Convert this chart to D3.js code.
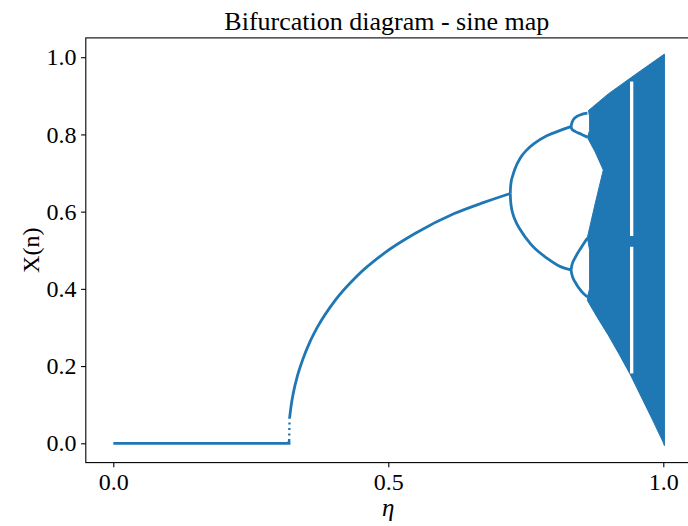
<!DOCTYPE html>
<html>
<head>
<meta charset="utf-8">
<script src="https://cdn.jsdelivr.net/npm/d3@7"></script>
<style>
  body { margin: 0; background: #fff; }
  svg { display: block; }
  .axis text { font-family: "Liberation Serif", "DejaVu Serif", serif; font-size: 24px; fill: #000; }
  .axis line { stroke: #000; stroke-width: 1.1; }
</style>
</head>
<body>
<div id="chart"></div>
<script>
// ticks
const etaTicks = [0, 0.5, 1.0];
const xTicks = [0, 0.2, 0.4, 0.6, 0.8, 1.0];

// branches, [eta, x]
const zeroBranch = [[0, 0], [0.3195, 0], [0.3195, 0.006]];
const onsetDots = [[0.3197, 0.006], [0.3205, 0.065]];
const fixedBranch = [[0.3205, 0.065], [0.3231, 0.095], [0.3270, 0.128], [0.3349, 0.175],
  [0.3442, 0.216], [0.3567, 0.260], [0.3716, 0.302], [0.4037, 0.371], [0.4413, 0.431],
  [0.4922, 0.492], [0.5493, 0.544], [0.6200, 0.595], [0.6740, 0.624], [0.7218, 0.647]];
const period2Upper = [[0.7218, 0.647], [0.7222, 0.662], [0.7235, 0.678], [0.7260, 0.692],
  [0.7300, 0.710], [0.7400, 0.739], [0.7520, 0.760], [0.7650, 0.776], [0.7890, 0.797],
  [0.8140, 0.811], [0.8322, 0.820]];
const period2Lower = [[0.7218, 0.647], [0.7222, 0.632], [0.7235, 0.614], [0.7260, 0.597],
  [0.7300, 0.580], [0.7400, 0.553], [0.7590, 0.516], [0.7890, 0.479], [0.8140, 0.457],
  [0.8322, 0.449]];
const period4a = [[0.8322, 0.820], [0.8340, 0.831], [0.8395, 0.843], [0.8516, 0.852], [0.8620, 0.855]];
const period4b = [[0.8322, 0.820], [0.8340, 0.813], [0.8395, 0.808], [0.8516, 0.800], [0.8620, 0.793]];
const period4c = [[0.8322, 0.449], [0.8340, 0.462], [0.8395, 0.480], [0.8516, 0.509], [0.8620, 0.532]];
const period4d = [[0.8322, 0.449], [0.8340, 0.436], [0.8395, 0.418], [0.8516, 0.393], [0.8620, 0.379]];

// chaotic band outline
const chaosUpper = [[0.8640, 0.862], [0.9000, 0.905], [0.9500, 0.956], [1.0020, 1.008]];
const chaosLower = [[0.8620, 0.370], [0.8800, 0.326], [0.9000, 0.280], [0.9200, 0.230],
  [0.9400, 0.178], [0.9600, 0.120], [0.9800, 0.062], [1.0000, 0.002], [1.0020, -0.006]];
const chaosLeft = [[0.8620, 0.378], [0.8660, 0.400], [0.8660, 0.500], [0.8620, 0.533],
  [0.8760, 0.620], [0.8909, 0.708], [0.8760, 0.755], [0.8620, 0.792], [0.8660, 0.810],
  [0.8660, 0.845], [0.8640, 0.862]];

// period-3 window gaps
const windowEta = [0.9395, 0.9455];
const windowGaps = [[0.537, 0.937], [0.181, 0.509]];

const width = 688, height = 526;
const plotLeft = 85.8, plotRight = 690.8, plotTop = 37.9, plotBottom = 462.6;
const blue = '#1f77b4';

const xScale = d3.scaleLinear().domain([-0.05, 1.05]).range([plotLeft, plotRight]);
const yScale = d3.scaleLinear().domain([-0.05, 1.05]).range([plotBottom, plotTop]);

const svg = d3.select('#chart').append('svg')
  .attr('width', width)
  .attr('height', height);

const line = d3.line()
  .x(d => xScale(d[0]))
  .y(d => yScale(d[1]))
  .curve(d3.curveMonotoneX);
const straight = d3.line()
  .x(d => xScale(d[0]))
  .y(d => yScale(d[1]));

const plot = svg.append('g');

// chaotic region
const outline = chaosUpper.concat(chaosLower.slice().reverse(), chaosLeft);
plot.append('path')
  .attr('d', straight(outline) + 'Z')
  .attr('fill', blue)
  .attr('stroke', blue)
  .attr('stroke-width', 1);

windowGaps.forEach(g => {
  plot.append('rect')
    .attr('x', xScale(windowEta[0]))
    .attr('width', xScale(windowEta[1]) - xScale(windowEta[0]))
    .attr('y', yScale(g[1]))
    .attr('height', yScale(g[0]) - yScale(g[1]))
    .attr('fill', '#fff');
});

plot.append('path')
  .attr('d', straight(zeroBranch))
  .attr('fill', 'none')
  .attr('stroke', blue)
  .attr('stroke-width', 2.8);

[fixedBranch, period2Upper, period2Lower, period4a, period4b, period4c, period4d]
  .forEach(b => {
    plot.append('path')
      .attr('d', line(b))
      .attr('fill', 'none')
      .attr('stroke', blue)
      .attr('stroke-width', 2.8);
  });

plot.append('path')
  .attr('d', straight(onsetDots))
  .attr('fill', 'none')
  .attr('stroke', blue)
  .attr('stroke-width', 2.4)
  .attr('stroke-dasharray', '2,3.5');

// axes
const xAxis = svg.append('g')
  .attr('class', 'axis')
  .attr('transform', 'translate(0,' + plotBottom + ')')
  .call(d3.axisBottom(xScale).tickValues(etaTicks).tickFormat(d3.format('.1f'))
    .tickSize(4.7).tickPadding(5.5).tickSizeOuter(0));
xAxis.select('.domain').remove();

const yAxis = svg.append('g')
  .attr('class', 'axis')
  .attr('transform', 'translate(' + plotLeft + ',0)')
  .call(d3.axisLeft(yScale).tickValues(xTicks).tickFormat(d3.format('.1f'))
    .tickSize(4.7).tickPadding(4.5).tickSizeOuter(0));
yAxis.select('.domain').remove();

svg.append('rect')
  .attr('x', plotLeft)
  .attr('y', plotTop)
  .attr('width', plotRight - plotLeft)
  .attr('height', plotBottom - plotTop)
  .attr('fill', 'none')
  .attr('stroke', '#000')
  .attr('stroke-width', 1.1);

svg.append('text')
  .attr('x', (plotLeft + plotRight) / 2 - 1.5)
  .attr('y', 30)
  .attr('text-anchor', 'middle')
  .style('font-family', '"Liberation Serif", serif')
  .style('font-size', '26px')
  .text('Bifurcation diagram - sine map');

svg.append('text')
  .attr('x', (plotLeft + plotRight) / 2)
  .attr('y', 516)
  .attr('text-anchor', 'middle')
  .style('font-family', '"Liberation Serif", serif')
  .style('font-style', 'italic')
  .style('font-size', '25px')
  .text('η');

svg.append('text')
  .attr('transform', 'translate(39,' + ((plotTop + plotBottom) / 2) + ') rotate(-90)')
  .attr('text-anchor', 'middle')
  .style('font-family', '"Liberation Serif", serif')
  .style('font-size', '24px')
  .text('X(n)');
</script>
</body>
</html>
